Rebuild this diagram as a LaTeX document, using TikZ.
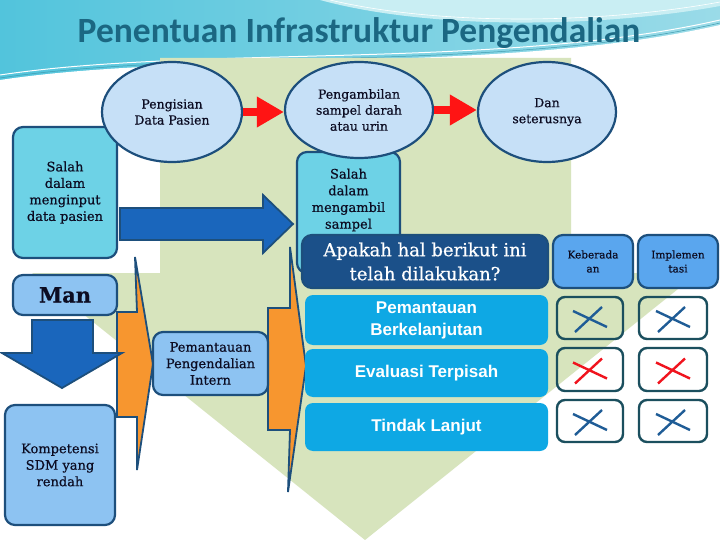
\documentclass[tikz,border=0pt]{standalone}
\usepackage{fontspec}
\setmainfont[FakeBold=0.6]{DejaVu Serif}
\newfontfamily\titlefont{Carlito}
\newfontfamily\rowfont{Liberation Sans}
\usetikzlibrary{shapes.geometric,arrows.meta,calc}
\definecolor{bandL}{HTML}{52C4DC}
\definecolor{bandR}{HTML}{9ADBE8}
\definecolor{bandLight}{HTML}{C9EEF3}
\definecolor{titleC}{HTML}{1B6782}
\definecolor{greenBg}{HTML}{D7E4BD}
\definecolor{edge}{HTML}{1D4F7C}
\definecolor{ellfill}{HTML}{C6E0F7}
\definecolor{salahfill}{HTML}{6DD2E6}
\definecolor{lightblue}{HTML}{8DC3F2}
\definecolor{apakahfill}{HTML}{1B5089}
\definecolor{kfill}{HTML}{5AA6EE}
\definecolor{rowfill}{HTML}{0EA8E4}
\definecolor{xedge}{HTML}{1B4F5E}
\definecolor{xblue}{HTML}{1F5C96}
\definecolor{xred}{HTML}{F0141E}
\definecolor{orangeC}{HTML}{F7962F}
\definecolor{bluearrfill}{HTML}{1A66BC}
\definecolor{redarr}{HTML}{FF1414}
\definecolor{txt}{HTML}{0C0C22}
\begin{document}
\begin{tikzpicture}[x=1pt,y=-1pt,
  ell/.style={ellipse, draw=edge, line width=2.2pt, fill=ellfill, inner sep=0pt, align=center,
    font=\fontsize{12.5}{16}\selectfont, text=txt},
  cbox/.style={rectangle, rounded corners=10pt, draw=edge, line width=2.2pt, inner sep=0pt,
    align=center, text=txt, font=\fontsize{13}{16.5}\selectfont},
  rowbox/.style={rectangle, rounded corners=8pt, fill=rowfill, inner sep=0pt, text=white,
    align=center, font=\rowfont\bfseries\fontsize{17}{22}\selectfont},
  xbox/.style={rectangle, rounded corners=8pt, draw=xedge, line width=2.4pt, inner sep=0pt},
  xmark/.style={line width=2.4pt, draw=xblue},
  xmarkred/.style={line width=2.4pt, draw=xred},
  redarrow/.style={draw=redarr, line width=8pt, -{Triangle[length=27pt,width=29pt]}},
  bluearrow/.style={fill=bluearrfill, draw=edge, line width=1.8pt, line join=miter},
  orangeshape/.style={fill=orangeC, draw=edge, line width=1.8pt, line join=miter}
]
\useasboundingbox (0,0) rectangle (720,540);
% background
\fill[white] (0,0) rectangle (720,540);
\shade[left color=bandL, right color=bandR] (0,0) rectangle (720,85);
\fill[bandLight] (320,0) .. controls (430,30) and (600,28) .. (720,6) -- (720,0) -- cycle;
\fill[white] (0,80) .. controls (200,50) and (500,75) .. (720,25) -- (720,90) -- (0,90) -- cycle;
\draw[white, line width=1pt] (0,75) .. controls (200,45) and (500,70) .. (720,20);
\draw[bandL!80!black, line width=0.5pt] (0,78) .. controls (200,48) and (500,73) .. (720,23);
\draw[white, line width=0.6pt] (330,0) .. controls (440,26) and (600,24) .. (720,2);
% green pentagon
\fill[greenBg] (160,58) -- (571,58) -- (571,273) -- (698,273) -- (365,540) -- (32,273) -- (160,273) -- cycle;
% title
\node[font=\titlefont\bfseries\fontsize{35.5}{40}\selectfont, text=titleC] (title) at (359,33) {Penentuan Infrastruktur Pengendalian};
% orange shapes
\draw[orangeshape] (117,312) -- (137,312) -- (135,257) -- (153,364) -- (137,470) -- (137,417) -- (117,417) -- cycle;
\draw[orangeshape] (268,308) -- (290,308) -- (290,247) -- (306,366) -- (288,492) -- (290,430) -- (268,430) -- cycle;
% boxes upper
\node[cbox, fill=salahfill, minimum width=104pt, minimum height=131pt] (s1) at (65,192.5) {Salah\\dalam\\menginput\\data pasien};
\node[cbox, fill=salahfill, minimum width=103pt, minimum height=121pt] (s2) at (348.5,212.5) {};
\node[align=center, text=txt, font=\fontsize{13}{16.7}\selectfont] (s2t) at (348.5,200) {Salah\\dalam\\mengambil\\sampel};
% blue right arrow
\draw[bluearrow] (120,208) -- (263,208) -- (263,195) -- (293,224) -- (263,253) -- (263,240) -- (120,240) -- cycle;
% ellipses
\node[ell, minimum width=140pt, minimum height=100pt] (p1) at (172,112) {Pengisian\\Data Pasien};
\node[ell, minimum width=148pt, minimum height=96pt] (p2) at (359,110) {Pengambilan\\sampel darah\\atau urin};
\node[ell, minimum width=138pt, minimum height=100pt] (p3) at (547,112) {Dan\\seterusnya};
\draw[redarrow] (p1.east) -- (p1.east -| p2.west);
\draw[redarrow] (p2.east) -- (p2.east -| p3.west);
% question header
\node[cbox, fill=apakahfill, text=white, minimum width=246pt, minimum height=53pt,
  font=\fontsize{18}{24}\selectfont] (q) at (425,261.5) {Apakah hal berikut ini\\telah dilakukan?};
\node[cbox, fill=kfill, minimum width=80pt, minimum height=53pt, font=\fontsize{10.5}{14}\selectfont] (kb) at (593,261.5) {Keberada\\an};
\node[cbox, fill=kfill, minimum width=80pt, minimum height=53pt, font=\fontsize{10.5}{14}\selectfont] (im) at (678,261.5) {Implemen\\tasi};
% rows
\node[rowbox, minimum width=243pt, minimum height=50pt] (r1) at (426.5,320) {Pemantauan\\Berkelanjutan};
\node[rowbox, minimum width=243pt, minimum height=48pt] (r2) at (426.5,373) {Evaluasi Terpisah};
\node[rowbox, minimum width=243pt, minimum height=48pt] (r3) at (426.5,427) {Tindak Lanjut};
% x boxes
\node[xbox, minimum width=66pt, minimum height=42pt] (x11) at (590,318) {};
\node[xbox, minimum width=68pt, minimum height=42pt] (x12) at (673,318) {};
\node[xbox, minimum width=66pt, minimum height=43pt] (x21) at (590,369.5) {};
\node[xbox, minimum width=68pt, minimum height=43pt] (x22) at (673,369.5) {};
\node[xbox, minimum width=66pt, minimum height=42pt] (x31) at (590,421) {};
\node[xbox, minimum width=68pt, minimum height=42pt] (x32) at (673,421) {};
\foreach \b in {x11,x12,x31,x32}{
  \draw[xmark] ($(\b)+(-17,-7)$) -- ($(\b)+(17,9)$);
  \draw[xmark] ($(\b)+(-15,14)$) -- ($(\b)+(12,-11)$);
}
\foreach \b in {x21,x22}{
  \draw[xmarkred] ($(\b)+(-17,-7)$) -- ($(\b)+(17,9)$);
  \draw[xmarkred] ($(\b)+(-15,14)$) -- ($(\b)+(12,-11)$);
}
% left column
\node[cbox, fill=lightblue, minimum width=104pt, minimum height=40pt, font=\bfseries\fontsize{21}{24}\selectfont] (man) at (65,295) {Man};
\draw[bluearrow] (32,320) -- (93,320) -- (93,353) -- (122,353) -- (62,388) -- (2,353) -- (32,353) -- cycle;
\node[cbox, fill=lightblue, minimum width=110pt, minimum height=120pt] (komp) at (60,465) {Kompetensi\\SDM yang\\rendah};
\node[cbox, fill=lightblue, minimum width=115pt, minimum height=63pt] (ppi) at (210.5,363.5) {Pemantauan\\Pengendalian\\Intern};
\end{tikzpicture}
\end{document}
